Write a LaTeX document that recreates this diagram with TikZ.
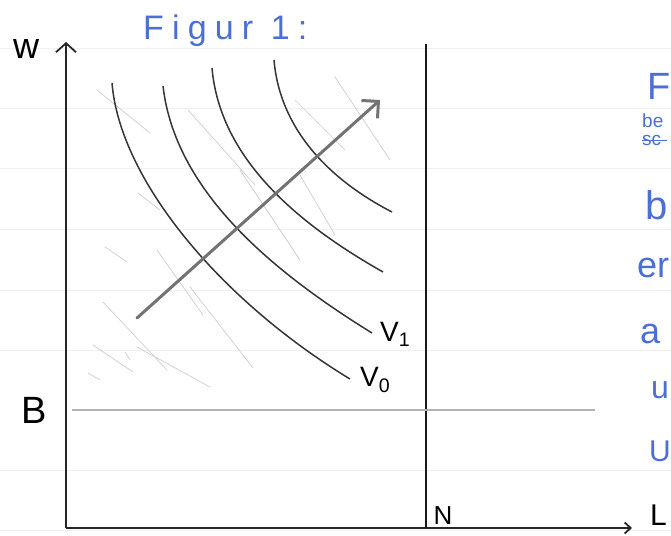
\documentclass[tikz,border=0pt]{standalone}
\usepackage{fontspec}
\setmainfont{Liberation Sans}
\usetikzlibrary{arrows.meta}
\definecolor{inkblue}{HTML}{4B6FD6}
\definecolor{pencil}{HTML}{353535}

\begin{document}
\begin{tikzpicture}[x=1pt, y=-1pt,
  rule/.style={line width=0.8pt, color=black!6},
  axis/.style={line width=1.8pt, color=black!85},
  curve/.style={line width=1.5pt, color=pencil},
  hatch/.style={line width=0.7pt, color=black!20, line cap=round},
  lbl/.style={inner sep=0pt, font=\fontsize{36}{40}\selectfont},
  note/.style={inner sep=0pt, anchor=west, text=inkblue, font=\fontsize{36}{40}\selectfont},
  small/.style={inner sep=0pt, anchor=west, text=inkblue, font=\fontsize{19}{21}\selectfont},
]
\useasboundingbox (0,0) rectangle (671,535);

\foreach \y in {48,108,168,229,290,350,470,530}
  \draw[rule] (0,\y) -- (671,\y);

\coordinate (O) at (66,528);
\coordinate (ytop) at (66,42);
\coordinate (xend) at (632,528);
\coordinate (ntop) at (426,44);
\coordinate (nbot) at (426,528);
\coordinate (bl) at (72,410);
\coordinate (br) at (595,410);

\node[lbl, text=inkblue, font=\fontsize{34}{38}\selectfont\addfontfeatures{LetterSpace=24}, anchor=west] (title) at (143,31) {Figur 1:};
\node[lbl] (w) at (26,49) {w};
\node[lbl, font=\fontsize{38}{42}\selectfont] (B) at (34,410) {B};
\node[lbl, font=\fontsize{26}{30}\selectfont] (N) at (443,516) {N};
\node[lbl, font=\fontsize{30}{34}\selectfont, anchor=west] (L) at (650,515) {L};

\draw[hatch] (97,90) -- (150,133);
\draw[hatch] (138,193) -- (160,210);
\draw[hatch] (105,247) -- (127,262);
\draw[hatch] (103,302) -- (167,370);
\draw[hatch] (93,345) -- (133,372);
\draw[hatch] (88,373) -- (100,380);
\draw[hatch] (125,352) -- (130,360);
\draw[hatch] (137,347) -- (210,387);
\draw[hatch] (157,250) -- (203,315);
\draw[hatch] (190,287) -- (253,368);
\draw[hatch] (188,110) -- (255,185);
\draw[hatch] (240,170) -- (300,260);
\draw[hatch] (295,100) -- (345,150);
\draw[hatch] (335,77) -- (390,160);
\draw[hatch] (300,175) -- (335,235);

\draw[axis, -{Straight Barb[length=9pt, width=20pt]}] (O) -- (ytop);
\draw[axis, -{Straight Barb[length=6pt, width=11pt]}] (O) -- (xend);
\draw[line width=1.6pt, color=black!90] (nbot) -- (ntop);
\draw[line width=1.8pt, color=black!30] (bl) -- (br);

\coordinate (c0a) at (112,83);
\coordinate (c0b) at (350,379);
\coordinate (c1a) at (163,86);
\coordinate (c1b) at (372,333);
\coordinate (c2a) at (212,68);
\coordinate (c2b) at (383,272);
\coordinate (c3a) at (274,60);
\coordinate (c3b) at (392,212);

\draw[curve] (c0a) .. controls (120,180) and (220,300) .. (c0b);
\draw[curve] (c1a) .. controls (175,190) and (270,270) .. (c1b);
\draw[curve] (c2a) .. controls (220,160) and (300,225) .. (c2b);
\draw[curve] (c3a) .. controls (280,130) and (330,180) .. (c3b);

\node[lbl, font=\fontsize{28}{32}\selectfont, anchor=west] (v1) at (380,334) {V\textsubscript{1}};
\node[lbl, font=\fontsize{28}{32}\selectfont, anchor=west] (v0) at (360,380) {V\textsubscript{0}};

\coordinate (arrs) at (137,318);
\coordinate (arre) at (380,100);
\draw[line width=3pt, color=black!55, line cap=round, -{Straight Barb[length=12pt, width=24pt]}] (arrs) -- (arre);

\node[note, font=\fontsize{38}{42}\selectfont] (n1) at (647,86) {F};
\node[small] (n2) at (642,121) {be};
\node[small] (n3) at (642,140) {sc};
\draw[line width=1pt, color=inkblue] (n3.west) -- ([xshift=6pt]n3.east);
\node[note, font=\fontsize{40}{44}\selectfont] (n4) at (645,205) {b};
\node[note] (n5) at (637,268) {er};
\node[note] (n6) at (640,334) {a};
\node[note, font=\fontsize{32}{36}\selectfont] (n7) at (651,390) {u};
\node[note, font=\fontsize{30}{34}\selectfont] (n8) at (649,451) {U};
\end{tikzpicture}
\end{document}
